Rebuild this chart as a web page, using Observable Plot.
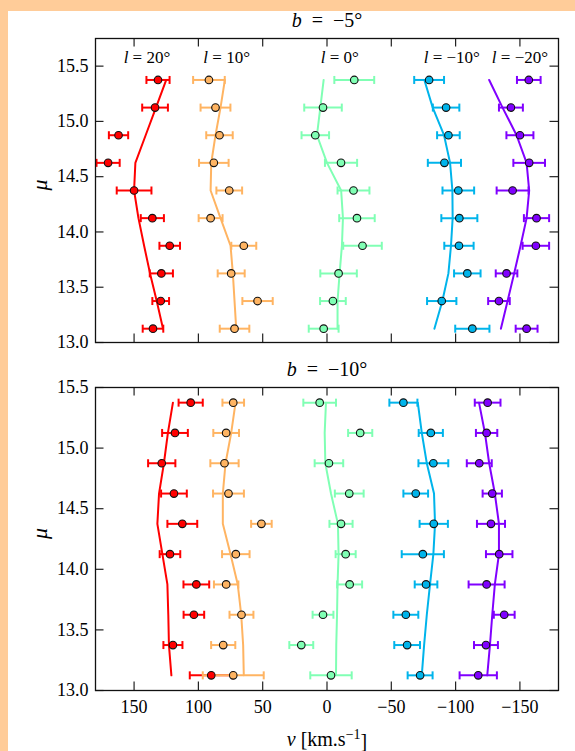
<!DOCTYPE html>
<html>
<head>
<meta charset="utf-8">
<script src="https://cdn.jsdelivr.net/npm/d3@7"></script>
<script src="https://cdn.jsdelivr.net/npm/@observablehq/plot@0.6"></script>
<style>
  html, body { margin: 0; padding: 0; }
  body { background: #ffcc99; width: 575px; height: 751px; overflow: hidden; position: relative; }
  #sheet { position: absolute; left: 8px; top: 11px; width: 567px; height: 740px; background: #fff; }
  #sheet svg { position: absolute; left: 0; background: transparent; }
</style>
</head>
<body>
<div id="sheet"></div>
<script>
// Distance-modulus bins (bin centres), from near to far
const mu = [13.125, 13.375, 13.625, 13.875, 14.125, 14.375, 14.625, 14.875, 15.125, 15.375];
// Galactic longitudes of the five fields in each latitude panel
const longitudes = [20, 10, 0, -10, -20];
const vTicks = [150, 100, 50, 0, -50, -100, -150];
const muTicks = [13, 13.5, 14, 14.5, 15, 15.5];

// b = -5°: observed mean velocity, its uncertainty and the model curve (one row per longitude)
const obsB5 = [
  [135.3, 129.3, 128.8, 122.3, 135.8, 150.0, 170.2, 162.1, 133.7, 131.4],
  [71.9, 54.0, 74.5, 64.7, 90.5, 76.0, 88.0, 83.6, 86.7, 91.8],
  [2.6, -4.6, -9.0, -27.6, -23.3, -20.6, -10.9, 9.1, 3.1, -21.2],
  [-113.0, -89.2, -109.1, -102.6, -102.9, -102.1, -91.3, -94.4, -92.6, -79.4],
  [-155.2, -133.7, -139.6, -162.4, -162.9, -144.3, -157.2, -150.0, -143.0, -156.9]
];
const errB5 = [
  [8, 6.5, 9, 8, 9, 13.5, 9, 7.5, 10, 9],
  [11.5, 11.8, 10.5, 9.7, 9.3, 10, 11.5, 10.3, 11.6, 12.3],
  [11.6, 10, 14.2, 15, 13.8, 12.4, 12.5, 10.7, 14.6, 15.5],
  [13.3, 11.4, 10.3, 11.4, 14, 12.3, 12.9, 8.8, 10.3, 11.6],
  [8.5, 8.4, 8.4, 10.3, 9.8, 12.4, 12.3, 10.5, 9.3, 9.2]
];
const modelB5 = [
  [127.5, 132.4, 137.6, 142.2, 146.6, 150.0, 149.0, 141.0, 133.0, 125.0],
  [70.6, 71.9, 73.2, 75.0, 82.8, 90.5, 90.0, 86.7, 82.8, 79.4],
  [-8.2, -8.2, -9.8, -11.6, -12.4, -11.0, 0.0, 7.8, 5.2, 2.6],
  [-83.5, -89.7, -94.4, -96.4, -97.7, -97.5, -95.7, -91.0, -82.2, -75.7],
  [-135.2, -140.4, -145.5, -150.5, -155.2, -157.2, -155.2, -147.4, -136.5, -126.1]
];

// b = -10°
const obsB10 = [
  [90.0, 119.8, 103.5, 101.6, 122.1, 112.5, 119.0, 128.5, 118.2, 106.0],
  [72.9, 80.7, 66.5, 78.4, 70.9, 51.0, 76.6, 79.7, 78.4, 72.9],
  [-3.1, 20.0, 3.1, -17.6, -14.5, -10.9, -17.3, -1.5, -25.8, 5.7],
  [-72.4, -62.3, -61.3, -77.0, -74.5, -83.0, -69.0, -82.7, -80.7, -59.4],
  [-117.6, -123.6, -137.8, -124.1, -133.9, -127.5, -128.5, -118.4, -124.1, -124.9]
];
const errB10 = [
  [16.7, 7.4, 8, 10, 8, 11.6, 10, 10.6, 10, 9.4],
  [23.7, 9.4, 9.3, 9.5, 10.7, 8, 12, 11, 10, 8.4],
  [16.1, 9.3, 8.1, 9.7, 7.8, 9, 11.2, 11.1, 9.4, 12.7],
  [9.7, 10, 9.7, 8.8, 16.4, 11, 9.6, 11.6, 9.4, 10.9],
  [14.5, 9.3, 8.1, 14, 10.3, 10.9, 7.5, 9.7, 8.3, 10]
];
const modelB10 = [
  [121.0, 122.9, 123.4, 124.1, 128.0, 131.9, 130.6, 126.8, 123.7, 119.8],
  [64.7, 65.2, 66.7, 69.4, 75.0, 81.0, 81.0, 78.9, 74.5, 71.1],
  [-7.0, -7.2, -7.8, -8.2, -9.0, -8.5, -3.1, 1.3, 1.8, 0.8],
  [-73.7, -75.5, -77.6, -80.1, -82.7, -84.0, -83.2, -77.6, -73.7, -70.6],
  [-124.6, -126.7, -128.5, -130.5, -133.7, -133.7, -130.5, -126.1, -122.8, -118.2]
];

// where the longitude labels sit along the velocity axis
const labelAt = [140, 78, -10, -97, -150];

// rainbow colour per longitude (l = 20° red ... l = -20° violet)
const seriesColors = ["#ff0000", "#ffb462", "#80ffb4", "#00b4eb", "#8000ff"];

const FONT = "Liberation Serif";
const W = 567, ML = 87, MR = 17;
const fmtMu = d3.format(".1f");
const fmtV = d3.format("d"); // d3 uses the true minus sign (U+2212)

// short vertical stroke used as error-bar cap
const capSymbol = {
  draw(ctx, size) {
    const r = Math.sqrt(size / Math.PI);
    ctx.moveTo(0, -r);
    ctx.lineTo(0, r);
  }
};

function panel({b, obs, err, model, muMax, top, marginTop, frameH, marginBottom, showXLabels, showLonLabels}) {
  const rows = longitudes.flatMap((l, i) => mu.map((m, j) => ({
    l, i, mu: m, v: obs[i][j], err: err[i][j], model: model[i][j]
  })));
  const frameW = W - ML - MR;
  const color = d => seriesColors[d.i];
  const tickLen = 8.5;
  const txt = {fontFamily: FONT, fill: "#000"};
  const marks = [
    Plot.line(rows, {x: "model", y: "mu", z: "l", stroke: color, strokeWidth: 2}),
    Plot.link(rows, {x1: d => d.v - d.err, x2: d => d.v + d.err, y1: "mu", y2: "mu", stroke: color, strokeWidth: 2}),
    Plot.dot(rows, {x: d => d.v - d.err, y: "mu", symbol: capSymbol, r: 4, fill: "none", stroke: color, strokeWidth: 2}),
    Plot.dot(rows, {x: d => d.v + d.err, y: "mu", symbol: capSymbol, r: 4, fill: "none", stroke: color, strokeWidth: 2}),
    Plot.dot(rows, {x: "v", y: "mu", r: 3.8, fill: color, stroke: "#111", strokeWidth: 1.1}),
    // inward ticks on all four sides
    Plot.tickX(vTicks, {x: d => d, insetTop: frameH - tickLen, stroke: "#222", strokeWidth: 1.2}),
    Plot.tickX(vTicks, {x: d => d, insetBottom: frameH - tickLen, stroke: "#222", strokeWidth: 1.2}),
    Plot.tickY(muTicks, {y: d => d, insetRight: frameW - tickLen, stroke: "#222", strokeWidth: 1.2}),
    Plot.tickY(muTicks, {y: d => d, insetLeft: frameW - tickLen, stroke: "#222", strokeWidth: 1.2}),
    // μ tick labels
    Plot.text(muTicks, {y: d => d, text: d => fmtMu(d), frameAnchor: "left", dx: -7, textAnchor: "end", fontSize: 18, ...txt}),
    Plot.text(["\u03bc"], {frameAnchor: "left", dx: -56, rotate: -90, fontSize: 22, fontStyle: "italic", ...txt}),
    Plot.text([`b = \u2212${Math.abs(b)}\u00b0`], {frameAnchor: "top", dy: -12, lineAnchor: "bottom", fontSize: 20, ...txt}),
    Plot.frame({stroke: "#111", strokeWidth: 1.3})
  ];
  if (showLonLabels) {
    marks.push(Plot.text(longitudes, {
      x: (d, i) => labelAt[i], frameAnchor: "top", dy: 24, lineAnchor: "bottom", fontSize: 17, ...txt,
      text: d => `l = ${d < 0 ? "\u2212" : ""}${Math.abs(d)}\u00b0`
    }));
  }
  if (showXLabels) {
    marks.push(Plot.text(vTicks, {x: d => d, text: d => fmtV(d), frameAnchor: "bottom", dy: 10, lineAnchor: "top", fontSize: 18, ...txt}));
    marks.push(Plot.text(["v [km.s-1]"], {frameAnchor: "bottom", dy: 55, lineAnchor: "bottom", fontSize: 20, ...txt}));
  }
  const svg = Plot.plot({
    width: W,
    height: marginTop + frameH + marginBottom,
    marginLeft: ML, marginRight: MR, marginTop, marginBottom,
    style: {fontFamily: FONT, fontSize: "18px", color: "#000", background: "transparent", overflow: "visible"},
    x: {domain: [180, -180], axis: null},
    y: {domain: [13, muMax], axis: null},
    marks
  });
  svg.style.top = `${top}px`;

  // typeset the math-style pieces: italic symbols and the superscript unit;
  // every label is set in a tspan with the serif face pinned on it
  d3.select(svg).selectAll("text").each(function () {
    const t = this.textContent;
    const sel = d3.select(this);
    sel.attr("font-family", FONT).style("font-family", FONT).style("font-variant", "normal");
    sel.text(null);
    if (/^l = /.test(t)) {
      sel.append("tspan").attr("font-style", "italic").text("l");
      sel.append("tspan").text(t.slice(1));
    } else if (/^b = /.test(t)) {
      sel.append("tspan").attr("font-style", "italic").text("b");
      sel.append("tspan").text(t.slice(1).replace(" = ", "  =  "));
    } else if (t === "v [km.s-1]") {
      sel.append("tspan").attr("font-style", "italic").text("v");
      sel.append("tspan").text(" [km.s");
      sel.append("tspan").attr("dy", "-0.45em").attr("font-size", "14px").text("\u22121");
      sel.append("tspan").attr("dy", "0.45em").text("]");
    } else {
      sel.append("tspan").text(t);
    }
  });
  return svg;
}

const sheet = document.getElementById("sheet");
sheet.append(panel({
  b: -5, obs: obsB5, err: errB5, model: modelB5, muMax: 15.75,
  top: 0, marginTop: 27, frameH: 304, marginBottom: 9,
  showXLabels: false, showLonLabels: true
}));
sheet.append(panel({
  b: -10, obs: obsB10, err: errB10, model: modelB10, muMax: 15.5,
  top: 340, marginTop: 36, frameH: 303, marginBottom: 61,
  showXLabels: true, showLonLabels: false
}));
</script>
</body>
</html>
